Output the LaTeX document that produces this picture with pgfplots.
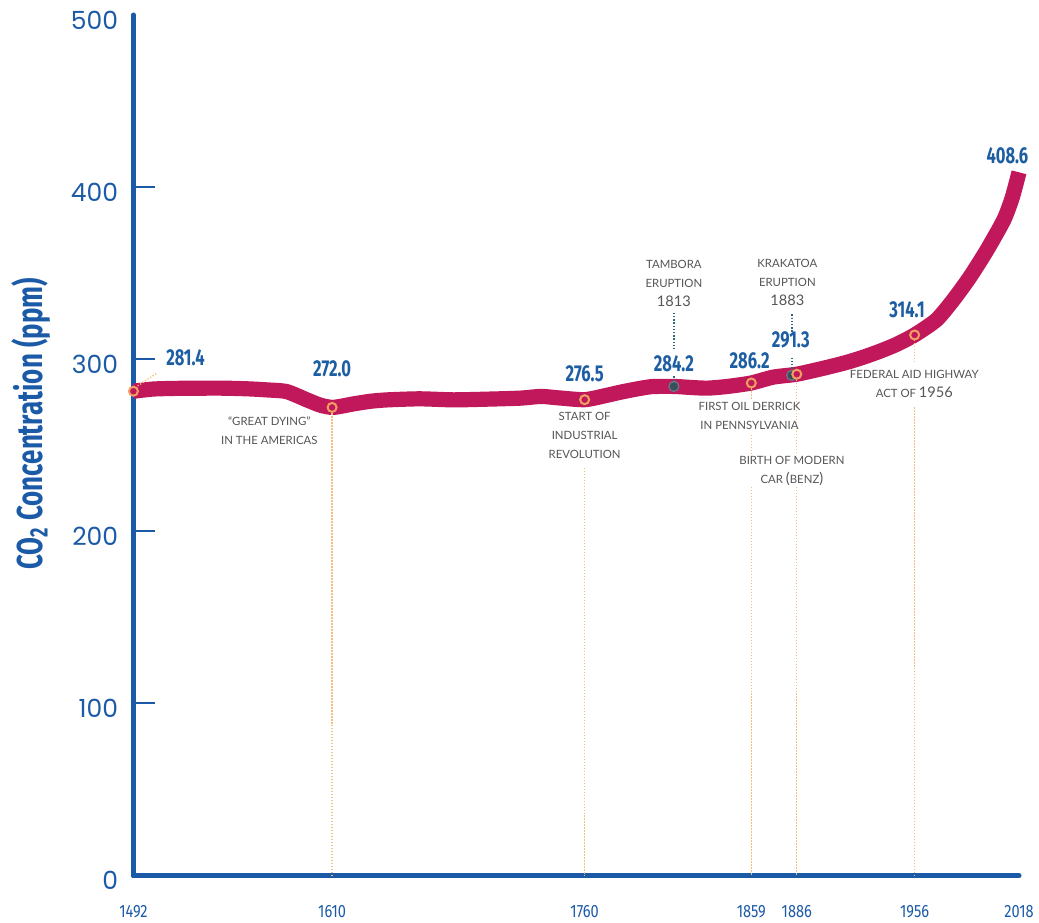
\documentclass[border=0pt]{standalone}
\usepackage{fontspec}
\usepackage{pgfplots}
\usepackage{pgfplotstable}
\pgfplotsset{compat=1.18}

\setmainfont{Lato}
\newfontfamily\tickfont{Poppins}
\newfontfamily\yearfont[FakeStretch=0.82]{Fira Sans}
\newfontfamily\valfont[FakeStretch=0.72]{Fira Sans}

\definecolor{axisblue}{HTML}{1B5AA6}
\definecolor{valblue}{HTML}{1D5EA3}
\definecolor{curvecol}{HTML}{C0185A}
\definecolor{ring}{HTML}{F0A060}
\definecolor{lead}{HTML}{F2C07A}
\definecolor{note}{HTML}{555555}
\definecolor{volcano}{HTML}{2F6B77}
\definecolor{darkmark}{HTML}{3A4F5C}

% Atmospheric CO2 concentration (ppm)
\pgfplotstableread{
year co2
1492 281.4
1504 282.7
1520 283.1
1544 283.2
1560 282.8
1571 282.2
1583 281.2
1595 276.4
1603 273.3
1610 272.0
1616 272.8
1623 274.1
1633 275.6
1643 276.4
1662 277.0
1682 276.4
1702 276.8
1722 277.4
1734 278.4
1744 277.6
1760 276.5
1773 279.0
1783 281.2
1799 284.0
1813 284.2
1823 283.6
1833 283.2
1845 284.2
1859 286.2
1872 289.6
1886 291.3
1902 294.8
1915 298.0
1925 301.0
1935 304.5
1945 308.5
1956 314.1
1969 322.9
1979 334.5
1989 348.0
1999 363.5
2009 381.0
2014 394.0
2018 408.6
}\cotwo

% Historical events
\pgfplotstableread{
year co2
1492 281.4
1610 272.0
1760 276.5
1859 286.2
1886 291.3
1956 314.1
}\events

% Volcanic eruptions
\pgfplotstableread{
year co2
1813 284.2
1883 290.6
}\eruptions

\tikzset{
  val/.style={font=\valfont\bfseries\fontsize{11.5}{13}\selectfont, text=valblue, inner sep=0pt},
  annot/.style={font=\fontsize{5.7}{9.5}\selectfont, text=note, align=center, inner sep=0pt},
  leadline/.style={lead, line width=0.7pt, dash pattern=on 0.6pt off 0.9pt},
  volcline/.style={volcano, line width=0.9pt, dash pattern=on 0.7pt off 0.9pt},
}
\newcommand{\bignum}[1]{{\fontsize{7.3}{9.5}\selectfont #1}}

\begin{document}
\begin{tikzpicture}
\begin{axis}[
  at={(0,0)}, anchor=south west,
  scale only axis, width=443pt, height=430.5pt,
  xmin=1492, xmax=2018, ymin=0, ymax=500,
  axis x line=bottom, axis y line=left,
  axis line style={-, line width=2.5pt, axisblue, line cap=round},
  xtick={1492,1610,1760,1859,1886,1956,2018},
  xticklabels={1492,1610,1760,1859,1886,1956,2018},
  xtick style={draw=none},
  xticklabel style={font=\yearfont\fontsize{8.9}{10}\selectfont, text=axisblue, anchor=center, yshift=-18pt},
  ytick={100,200,300,400},
  extra y ticks={0,500},
  extra y tick style={major tick length=0pt},
  ytick style={line width=1pt, axisblue},
  tick align=inside, major tick length=11pt,
  yticklabel style={font=\tickfont\fontsize{12.5}{14}\selectfont, text=axisblue, anchor=east, inner sep=0pt, xshift=-7.5pt, yshift=-2.5pt},
  /pgf/number format/assume math mode=true,
  clip=false,
]
% concentration curve
\addplot[curvecol, line width=7.6pt, line join=round, smooth, tension=0.4] table[x=year, y=co2] {\cotwo};

% leader lines to the events
\draw[leadline] (axis cs:1494.5,284.5) -- (axis cs:1506,292);
\draw[leadline] (axis cs:1610,268.5) -- (axis cs:1610,0);
\draw[leadline] (axis cs:1760,237) -- (axis cs:1760,0);
\draw[leadline] (axis cs:1859,283) -- (axis cs:1859,276.5);
\draw[leadline] (axis cs:1859,256) -- (axis cs:1859,245);
\draw[leadline] (axis cs:1859,226) -- (axis cs:1859,0);
\draw[leadline] (axis cs:1886,288) -- (axis cs:1886,245);
\draw[leadline] (axis cs:1886,226) -- (axis cs:1886,0);
\draw[leadline] (axis cs:1956,311) -- (axis cs:1956,297.5);
\draw[leadline] (axis cs:1956,272) -- (axis cs:1956,0);
\draw[volcline] (axis cs:1813,327) -- (axis cs:1813,305.5);
\draw[volcline] (axis cs:1813,290) -- (axis cs:1813,287);
\draw[volcline] (axis cs:1883,326) -- (axis cs:1883,316);
\draw[volcline] (axis cs:1883,301) -- (axis cs:1883,293);

% event markers
\addplot[only marks, mark=*, mark size=2.5pt, mark options={draw=darkmark!75!white, fill=darkmark, line width=0.6pt}] table[x=year, y=co2] {\eruptions};
\addplot[only marks, mark=*, mark size=2.25pt, mark options={draw=ring, fill=curvecol, line width=1pt}] table[x=year, y=co2] {\events};

% values
\node[val] at (axis cs:1522.9,300.6) {281.4};
\node[val] at (axis cs:1610,294.3) {272.0};
\node[val] at (axis cs:1760,291.5) {276.5};
\node[val] at (axis cs:1813,297.3) {284.2};
\node[val] at (axis cs:1858,299.2) {286.2};
\node[val] at (axis cs:1882.5,311.3) {291.3};
\node[val] at (axis cs:1951.5,328.7) {314.1};
\node[val] at (axis cs:2011.1,418.1) {408.6};

% event descriptions
\node[annot] at (axis cs:1572.7,258.7) {“GREAT DYING”\\IN THE AMERICAS};
\node[annot] at (axis cs:1760,255.9) {START OF\\INDUSTRIAL\\REVOLUTION};
\node[annot] at (axis cs:1813,343.9) {TAMBORA\\ERUPTION\\\bignum{1813}};
\node[annot] at (axis cs:1880.4,344.9) {KRAKATOA\\ERUPTION\\\bignum{1883}};
\node[annot] at (axis cs:1857.9,267) {FIRST OIL DERRICK\\IN PENNSYLVANIA};
\node[annot] at (axis cs:1883.1,235.3) {BIRTH OF MODERN\\CAR \bignum{(}BENZ\bignum{)}};
\node[annot] at (axis cs:1955.8,285.6) {FEDERAL AID HIGHWAY\\ACT OF \bignum{1956}};

% axis title
\node[rotate=90, font=\valfont\bfseries\fontsize{18}{20}\selectfont, text=axisblue, inner sep=0pt] at (rel axis cs:-0.116,0.525) {CO\textsubscript{2} Concentration (ppm)};
\end{axis}
\pgfresetboundingbox
\path[use as bounding box] (-66.75pt,-23.5pt) rectangle (453pt,438pt);
\end{tikzpicture}
\end{document}
